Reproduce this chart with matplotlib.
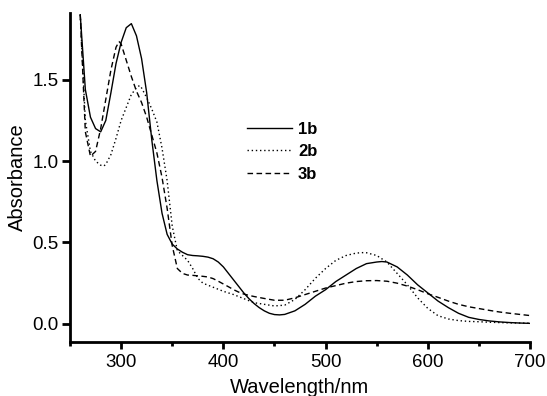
import matplotlib
matplotlib.use("Agg")
import matplotlib.pyplot as plt
from matplotlib.ticker import MultipleLocator, FormatStrFormatter

plt.rcParams['font.family'] = ['Liberation Sans', 'DejaVu Sans']

# UV-vis spectra
wl_1b = [260, 265, 270, 275, 280, 285, 290, 295, 300, 305, 310, 315, 320, 325,
         330, 335, 340, 345, 350, 355, 360, 365, 370, 375, 380, 385, 390, 395,
         400, 405, 410, 415, 420, 425, 430, 435, 440, 445, 450, 455, 460, 470,
         480, 490, 500, 510, 520, 530, 540, 550, 555, 560, 570, 580, 590, 600,
         610, 620, 630, 640, 650, 660, 670, 680, 690, 700]
abs_1b = [1.90, 1.44, 1.27, 1.20, 1.18, 1.25, 1.42, 1.60, 1.73, 1.82, 1.845, 1.77,
          1.63, 1.42, 1.13, 0.88, 0.68, 0.55, 0.49, 0.46, 0.44, 0.425, 0.42, 0.418,
          0.415, 0.41, 0.40, 0.38, 0.35, 0.31, 0.27, 0.23, 0.19, 0.155, 0.125,
          0.10, 0.08, 0.065, 0.057, 0.055, 0.058, 0.08, 0.12, 0.17, 0.21, 0.26,
          0.30, 0.34, 0.37, 0.38, 0.383, 0.38, 0.35, 0.30, 0.24, 0.19, 0.14,
          0.10, 0.065, 0.04, 0.027, 0.018, 0.012, 0.008, 0.005, 0.003]

wl_2b = [260, 265, 270, 275, 280, 283, 285, 290, 295, 300, 305, 310, 315, 318,
         320, 325, 330, 335, 340, 345, 350, 355, 360, 365, 370, 375, 380, 390,
         400, 410, 420, 430, 440, 450, 460, 470, 480, 490, 500, 510, 520, 530,
         537, 540, 550, 560, 570, 580, 590, 600, 610, 620, 630, 640, 650, 660,
         680, 700]
abs_2b = [1.90, 1.25, 1.06, 1.00, 0.975, 0.97, 0.98, 1.04, 1.14, 1.25, 1.33, 1.41,
          1.45, 1.465, 1.45, 1.39, 1.32, 1.24, 1.08, 0.88, 0.60, 0.45, 0.42, 0.39,
          0.34, 0.28, 0.25, 0.225, 0.20, 0.18, 0.155, 0.13, 0.12, 0.11, 0.115,
          0.15, 0.21, 0.28, 0.34, 0.39, 0.42, 0.435, 0.438, 0.437, 0.42, 0.38,
          0.31, 0.24, 0.16, 0.095, 0.05, 0.03, 0.02, 0.015, 0.013, 0.01, 0.006,
          0.004]

wl_3b = [260, 265, 270, 275, 280, 285, 290, 295, 298, 300, 305, 310, 315, 320,
         325, 330, 335, 340, 345, 350, 355, 360, 365, 370, 375, 380, 385, 390,
         395, 400, 405, 410, 415, 420, 425, 430, 435, 440, 450, 460, 470, 480,
         490, 500, 510, 520, 530, 540, 550, 560, 570, 580, 590, 600, 610, 620,
         630, 640, 650, 660, 670, 680, 690, 700]
abs_3b = [1.90, 1.18, 1.03, 1.06, 1.20, 1.38, 1.56, 1.70, 1.735, 1.72, 1.62, 1.52,
          1.43, 1.36, 1.27, 1.16, 1.05, 0.90, 0.71, 0.48, 0.34, 0.31, 0.30, 0.298,
          0.295, 0.292, 0.288, 0.278, 0.262, 0.245, 0.228, 0.21, 0.195, 0.183,
          0.175, 0.168, 0.162, 0.156, 0.145, 0.145, 0.16, 0.18, 0.20, 0.22,
          0.235, 0.25, 0.26, 0.265, 0.266, 0.262, 0.25, 0.232, 0.21, 0.185,
          0.163, 0.14, 0.12, 0.105, 0.094, 0.083, 0.073, 0.065, 0.058, 0.051]

fig = plt.figure(figsize=(5.47, 3.96), dpi=100)
ax = fig.add_axes([0.128, 0.137, 0.841, 0.830])

ax.plot(wl_1b, abs_1b, color='black', lw=1.0, ls='-', label='1b')
ax.plot(wl_2b, abs_2b, color='black', lw=1.0, ls=(0, (1, 2)), label='2b')
ax.plot(wl_3b, abs_3b, color='black', lw=1.0, ls=(0, (4, 2.5)), label='3b')

ax.set_xlim(250, 700)
ax.set_ylim(-0.11, 1.91)
ax.xaxis.set_major_locator(MultipleLocator(100))
ax.xaxis.set_minor_locator(MultipleLocator(50))
ax.set_yticks([0.0, 0.5, 1.0, 1.5])
ax.yaxis.set_major_formatter(FormatStrFormatter('%.1f'))

for s in ['top', 'right']:
    ax.spines[s].set_visible(False)
for s in ['left', 'bottom']:
    ax.spines[s].set_linewidth(2.0)

ax.tick_params(axis='both', which='major', direction='out', width=2.0,
               labelsize=13.5)
ax.tick_params(axis='x', which='major', length=5, pad=4)
ax.tick_params(axis='x', which='minor', direction='out', length=3, width=2.0)
ax.tick_params(axis='y', which='major', length=6, pad=2)

ax.set_xlabel('Wavelength/nm', fontsize=14.5, labelpad=5)
ax.set_ylabel('Absorbance', fontsize=14.5, labelpad=4)

ax.legend(loc='upper left', bbox_to_anchor=(0.385, 0.67), frameon=False,
          prop={'weight': 'bold', 'size': 12}, handlelength=2.7,
          handletextpad=0.35, labelspacing=0.45, borderpad=0,
          borderaxespad=0)

fig.savefig('out.png', dpi=100)
